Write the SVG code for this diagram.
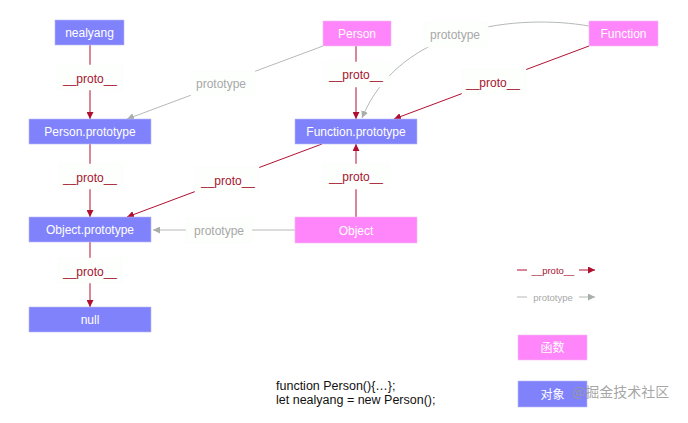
<svg xmlns="http://www.w3.org/2000/svg" width="688" height="423" viewBox="0 0 688 423">
<style>
.bg{fill:#ffffff}
.fn{fill:#ff85fb;stroke:#f0c0f0;stroke-width:0.6}
.ob{fill:#8082fb;stroke:#b8b8f8;stroke-width:0.6}
.nt{font-family:"Liberation Sans",Arial,sans-serif;font-size:12px;fill:#ffffff;text-anchor:middle}
.lb{fill:#fdfffd;stroke:#f7fbf7;stroke-width:0.5}
.pt{font-family:"Liberation Sans",Arial,sans-serif;font-size:12px;fill:#a5152f;text-anchor:middle}
.gt{font-family:"Liberation Sans",Arial,sans-serif;font-size:12px;fill:#a8a8a8;text-anchor:middle}
.red{stroke:#b01030;stroke-width:1;fill:none}
.gray{stroke:#b4bab4;stroke-width:1;fill:none}
.code{font-family:"Liberation Sans",Arial,sans-serif;font-size:12.5px;fill:#111111}
</style>
<defs>
<marker id="ar" viewBox="0 0 10 10" refX="10" refY="5" markerWidth="7" markerHeight="7" markerUnits="userSpaceOnUse" orient="auto"><path d="M0,0 L10,5 L0,10 z" fill="#b01030"/></marker>
<marker id="ag" viewBox="0 0 10 10" refX="10" refY="5" markerWidth="7" markerHeight="7" markerUnits="userSpaceOnUse" orient="auto"><path d="M0,0 L10,5 L0,10 z" fill="#a8aea8"/></marker>
</defs>
<rect class="bg" x="0" y="0" width="688" height="423"/>

<g id="connectors">
  <line class="red" x1="90" y1="45" x2="90" y2="119" marker-end="url(#ar)"/>
  <line class="red" x1="90" y1="144" x2="90" y2="217" marker-end="url(#ar)"/>
  <line class="red" x1="90" y1="242" x2="90" y2="307" marker-end="url(#ar)"/>
  <line class="gray" x1="323" y1="46" x2="127" y2="119" marker-end="url(#ag)"/>
  <line class="red" x1="356" y1="46" x2="356" y2="119" marker-end="url(#ar)"/>
  <line class="red" x1="589" y1="46" x2="394" y2="119" marker-end="url(#ar)"/>
  <path class="gray" d="M589,26 C520,14 400,25 362,118" marker-end="url(#ag)"/>
  <line class="red" x1="322" y1="144" x2="127" y2="217" marker-end="url(#ar)"/>
  <line class="red" x1="356" y1="217" x2="356" y2="144" marker-end="url(#ar)"/>
  <line class="gray" x1="295" y1="230" x2="153" y2="230" marker-end="url(#ag)"/>

  <rect class="lb" x="57" y="65" width="66" height="25"/>
  <text class="pt" x="90" y="83">__proto__</text>
  <rect class="lb" x="59" y="164" width="64" height="25"/>
  <text class="pt" x="90" y="182">__proto__</text>
  <rect class="lb" x="58" y="258" width="64" height="25"/>
  <text class="pt" x="90" y="276">__proto__</text>
  <rect class="lb" x="191" y="71" width="64" height="25"/>
  <text class="gt" x="221" y="88">prototype</text>
  <rect class="lb" x="323" y="62" width="66" height="25"/>
  <text class="pt" x="356" y="79">__proto__</text>
  <rect class="lb" x="424" y="22" width="64" height="25"/>
  <text class="gt" x="455" y="39">prototype</text>
  <rect class="lb" x="462" y="69" width="64" height="25"/>
  <text class="pt" x="493" y="87">__proto__</text>
  <rect class="lb" x="195" y="167" width="64" height="25"/>
  <text class="pt" x="228" y="185">__proto__</text>
  <rect class="lb" x="323" y="164" width="66" height="25"/>
  <text class="pt" x="356" y="181">__proto__</text>
  <rect class="lb" x="186" y="218" width="66" height="25"/>
  <text class="gt" x="219" y="235">prototype</text>
</g>

<g id="nealyang"><rect class="ob" x="55" y="20" width="69" height="25"/><text class="nt" x="89.5" y="37">nealyang</text></g>
<g id="person-prototype"><rect class="ob" x="29" y="119" width="122" height="25"/><text class="nt" x="90" y="136">Person.prototype</text></g>
<g id="object-prototype"><rect class="ob" x="29" y="217" width="122" height="25"/><text class="nt" x="90" y="234">Object.prototype</text></g>
<g id="null"><rect class="ob" x="29" y="307" width="122" height="25"/><text class="nt" x="90" y="324">null</text></g>
<g id="person"><rect class="fn" x="323" y="21" width="68" height="25"/><text class="nt" x="357" y="38">Person</text></g>
<g id="function"><rect class="fn" x="589" y="21" width="69" height="25"/><text class="nt" x="623.5" y="38">Function</text></g>
<g id="function-prototype"><rect class="ob" x="295" y="119" width="122" height="25"/><text class="nt" x="356" y="136">Function.prototype</text></g>
<g id="object"><rect class="fn" x="295" y="217" width="122" height="26"/><text class="nt" x="356" y="235">Object</text></g>

<g id="legend">
  <line class="red" x1="517" y1="270" x2="527" y2="270"/>
  <text class="pt" x="553" y="273.5" style="font-size:9.5px">__proto__</text>
  <line class="red" x1="579" y1="270" x2="595" y2="270" marker-end="url(#ar)"/>
  <line class="gray" x1="517" y1="297" x2="527" y2="297"/>
  <text class="gt" x="553" y="300.5" style="font-size:9.5px">prototype</text>
  <line class="gray" x1="579" y1="297" x2="595" y2="297" marker-end="url(#ag)"/>
  <g id="legend-function"><rect class="fn" x="518" y="335" width="69" height="25"/><text class="nt" x="552.5" y="352" style="font-family:'Noto Sans CJK SC',sans-serif">函数</text></g>
  <g id="legend-object"><rect class="ob" x="518" y="381" width="69" height="26"/><text class="nt" x="552.5" y="399" style="font-family:'Noto Sans CJK SC',sans-serif">对象</text></g>
</g>

<g id="code">
  <text class="code" x="276" y="390">function Person(){…};</text>
  <text class="code" x="276" y="404">let nealyang = new Person();</text>
</g>
<text x="572" y="397" style="font-family:'Noto Sans CJK SC',sans-serif;font-size:14px;fill:#9a9a9a;fill-opacity:0.9">@掘金技术社区</text>
</svg>
